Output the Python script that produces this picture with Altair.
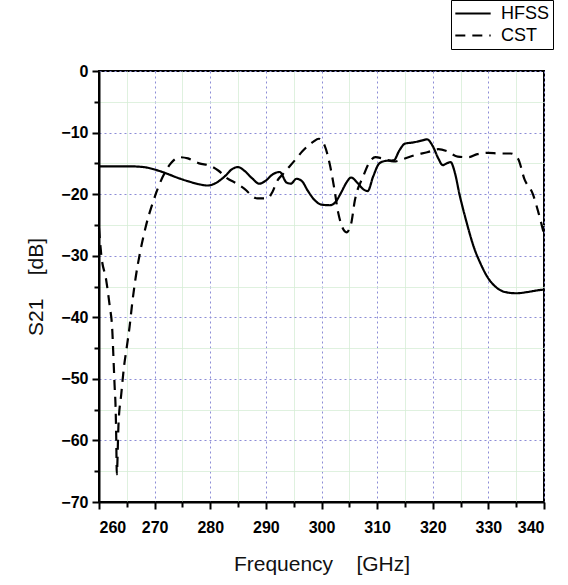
import altair as alt
import pandas as pd

# ---- data ----
series_names = ["HFSS", "CST"]

hfss_freq = [260, 263, 266, 268, 270, 272, 274, 276, 278, 279.5, 281, 282.5, 284, 285, 286,
             287.5, 288.8, 290, 291.2, 292.5, 293.7, 294.5, 295.5, 296.5, 297.5, 298.8, 300,
             301.5, 302.5, 303.5, 304.5, 305.3, 306.5, 307.5, 308.3, 309.3, 310.4, 311.5, 313,
             314, 315, 316.5, 318, 319, 320, 321, 321.8, 322.5, 323.2, 324, 324.8, 326, 327.5,
             328.5, 330, 331.5, 333, 335, 337, 339, 340]
hfss_db = [-15.5, -15.5, -15.5, -15.6, -16.0, -16.6, -17.3, -17.9, -18.4, -18.6, -18.2, -17.2,
           -15.9, -15.6, -16.1, -17.4, -18.3, -17.8, -16.8, -16.4, -18.1, -18.3, -17.5, -17.9,
           -19.4, -21.0, -21.7, -21.8, -21.3, -19.8, -18.1, -17.3, -18.2, -19.2, -19.5, -17.1,
           -15.0, -14.6, -14.5, -12.9, -11.8, -11.6, -11.3, -11.1, -12.2, -14.2, -15.3, -15.0,
           -14.8, -16.6, -20.0, -24.3, -28.9, -31.1, -33.7, -35.2, -35.9, -36.1, -35.9, -35.6,
           -35.5]

cst_freq = [260, 260.4, 261.3, 261.9, 262.4, 262.6, 262.8, 263.0, 263.1, 263.2, 263.5, 264.0,
            264.5, 265.0, 265.5, 266.0, 266.6, 267.4, 268.4, 269.7, 271.5, 273, 274.5, 276,
            278, 280, 281.5, 283, 285, 286.5, 287.5, 288.5, 290.3, 291.2, 292, 293, 295.5,
            296.6, 298.5, 299.5, 300.6, 301.5, 302.3, 303, 304.5, 305.3, 306, 307.5, 308.5,
            309.7, 311, 313, 315, 317, 319, 321, 322.5, 324.5, 326.5, 328, 330, 332, 334,
            335.3, 336.5, 338, 339, 340]
cst_db = [-25.5, -29.8, -34.0, -38.0, -42.3, -46.6, -51.0, -55.2, -59.6, -65.5, -57.5, -52.5,
          -48.0, -44.8, -41.5, -37.5, -33.5, -29.4, -25.3, -21.3, -17.1, -14.9, -14.0, -14.2,
          -15.0, -15.4, -16.2, -17.4, -18.4, -19.4, -20.3, -20.7, -20.7, -19.6, -17.9, -16.8,
          -14.2, -13.0, -11.5, -11.0, -12.2, -15.2, -19.1, -23.0, -26.2, -24.9, -21.0, -17.1,
          -15.0, -14.0, -14.2, -14.7, -14.2, -13.6, -13.2, -12.7, -13.0, -13.9, -14.0, -13.5,
          -13.3, -13.4, -13.4, -14.2, -17.6, -20.0, -23.0, -26.5]

x_ticks = list(range(260, 341, 5))
y_ticks = list(range(-70, 1, 5))

df = pd.concat([
    pd.DataFrame({"f": hfss_freq, "db": hfss_db, "s": series_names[0]}),
    pd.DataFrame({"f": cst_freq, "db": cst_db, "s": series_names[1]}),
], ignore_index=True)
df["order"] = range(len(df))

FONT = "Liberation Sans"
MAJOR = "datum.value % 10 === 0"
NB = "\u00a0"


def axis(title, values, label_pad, title_pad):
    return alt.Axis(
        title=title,
        values=values,
        labelExpr=f"{MAJOR} ? datum.label : ''",
        grid=True,
        gridColor={"condition": {"test": MAJOR, "value": "#8c8cd6"}, "value": "#d4ecd4"},
        gridDash={"condition": {"test": MAJOR, "value": [2, 3]}, "value": [1, 0]},
        gridWidth=1,
        tickSize={"condition": {"test": MAJOR, "value": 7}, "value": 5},
        tickColor="black",
        tickWidth=2,
        domainColor="black",
        domainWidth=2,
        labelFont="Arial",
        labelFontSize=16,
        labelFontWeight=700,
        labelColor="black",
        labelPadding=label_pad,
        titleFont=FONT,
        titleFontSize=21,
        titleFontWeight="normal",
        titleColor="#111111",
        titlePadding=title_pad,
    )


chart = alt.Chart(df).mark_line(interpolate="monotone", strokeWidth=2.2, color="black").encode(
    x=alt.X("f:Q", scale=alt.Scale(domain=[260, 340], nice=False, zero=False),
            axis=axis(f"Frequency{NB}{NB}{NB}{NB}[GHz]", x_ticks, 10, 18)),
    y=alt.Y("db:Q", scale=alt.Scale(domain=[-70, 0], nice=False, zero=False),
            axis=axis(f"S21{NB}{NB}{NB}{NB}[dB]", y_ticks, 4, 14)),
    strokeDash=alt.StrokeDash(
        "s:N",
        scale=alt.Scale(domain=series_names, range=[[1, 0], [10, 7]]),
        legend=alt.Legend(
            orient="none", legendX=352, legendY=-71, title=None,
            symbolType="stroke", symbolSize=1250, symbolStrokeWidth=2.2,
            symbolStrokeColor="black", clipHeight=21, rowPadding=1,
            labelFont=FONT, labelFontSize=18, labelColor="black", labelOffset=9,
            strokeColor="black", fillColor="white", padding=3,
        ),
    ),
    order="order:Q",
).properties(
    width=445,
    height=431,
    padding={"left": 99, "top": 71, "right": 24, "bottom": 83},
    autosize=alt.AutoSizeParams(type="none"),
    background="white",
).configure_view(stroke="black", strokeWidth=2)

chart.save("out.html", embed_options={"renderer": "svg", "actions": False})
